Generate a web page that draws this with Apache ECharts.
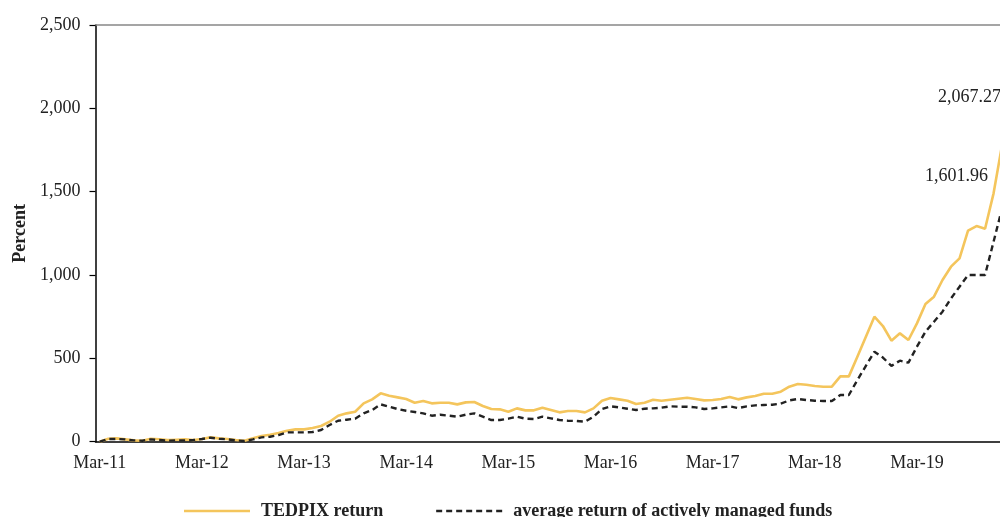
<!DOCTYPE html>
<html>
<head>
<meta charset="utf-8">
<script src="https://cdn.jsdelivr.net/npm/echarts@6/dist/echarts.min.js"></script>
<style>
html,body{margin:0;padding:0;overflow:hidden;background:#fff;}
#chart{width:1030px;height:517px;}
</style>
</head>
<body>
<div id="chart"></div>
<script>
// Monthly observations, Mar-2011 .. Feb-2020
const startYear = 2011, startMonth = 2; // March (0-based)
const monthNames = ['Jan','Feb','Mar','Apr','May','Jun','Jul','Aug','Sep','Oct','Nov','Dec'];

const tedpixReturn = [
  0, 18, 20, 14, 8, 6, 18, 15, 10, 12, 14, 10,
  16, 26, 20, 16, 10, 6, 20, 34, 42, 52, 66, 74,
  74, 82, 94, 120, 156, 170, 180, 230, 254, 290, 276, 266,
  256, 234, 244, 230, 234, 234, 224, 236, 238, 214, 196, 194,
  180, 200, 188, 188, 204, 190, 176, 184, 184, 176, 200, 246,
  262, 254, 246, 226, 234, 252, 246, 252, 258, 264, 256, 248,
  250, 256, 268, 254, 266, 274, 288, 288, 300, 330, 346, 342,
  334, 330, 330, 392, 392, 510, 630, 750, 694, 606, 650, 610,
  710, 826, 870, 970, 1050, 1100, 1266, 1294, 1278, 1490, 1780, 2067.27
];

const fundsReturn = [
  0, 16, 16, 14, 8, 6, 14, 10, 6, 8, 8, 10,
  16, 24, 18, 14, 8, 4, 14, 26, 30, 40, 56, 56,
  56, 58, 70, 100, 126, 132, 138, 170, 190, 224, 210, 196,
  186, 178, 170, 156, 162, 156, 150, 162, 170, 150, 130, 130,
  138, 150, 138, 136, 150, 140, 130, 126, 124, 120, 150, 196,
  212, 206, 198, 190, 198, 200, 204, 212, 210, 210, 206, 196,
  200, 206, 212, 202, 212, 218, 220, 222, 228, 248, 256, 250,
  246, 244, 244, 280, 280, 370, 455, 540, 505, 455, 486, 474,
  570, 660, 720, 780, 860, 930, 1000, 1000, 1000, 1200, 1400, 1601.96
];

const seriesNames = ['TEDPIX return', 'average return of actively managed funds'];
const endLabels = ['2,067.27', '1,601.96'];
const yTicks = { min: 0, max: 2500, interval: 500 };

const categories = tedpixReturn.map((_, i) => {
  const m = startMonth + i;
  const y = startYear + Math.floor(m / 12);
  return monthNames[m % 12] + '-' + String(y % 100).padStart(2, '0');
});

const FONT = '"Liberation Serif", "Times New Roman", serif';
const TXT = '#222';
const GOLD = '#F4C55C';
const DARK = '#222';

function withEndLabel(arr, text, dist, dy) {
  return arr.map((v, i) => i === arr.length - 1
    ? { value: v,
        label: { show: true, position: 'left', distance: dist, offset: [0, dy], formatter: text,
        fontFamily: FONT, fontSize: 18, color: TXT } }
    : v);
}

const dashIcon = 'path://M0,0h6v2.4h-6z M10,0h6v2.4h-6z M20,0h6v2.4h-6z M30,0h6v2.4h-6z M40,0h6v2.4h-6z M50,0h6v2.4h-6z M60,0h6v2.4h-6z';

const chart = echarts.init(document.getElementById('chart'), null, { renderer: 'canvas' });
chart.setOption({
  animation: false,
  backgroundColor: '#fff',
  grid: { left: 95.5, right: 15.15, top: 25, bottom: 75.3, containLabel: false },
  legend: {
    left: 179, top: 497,
    itemWidth: 66, itemHeight: 2.6, itemGap: 53,
    textStyle: { fontFamily: FONT, fontWeight: 'bold', fontSize: 18, color: TXT, padding: [0, 0, 0, 6] },
    data: [
      { name: seriesNames[0], icon: 'rect', itemStyle: { color: GOLD } },
      { name: seriesNames[1], icon: dashIcon, itemStyle: { color: DARK } }
    ]
  },
  xAxis: [{
    type: 'category', data: categories, boundaryGap: true,
    axisLine: { lineStyle: { color: '#000', width: 1.5 } },
    axisTick: { interval: 11, length: 6, lineStyle: { color: '#000', width: 1.2 } },
    axisLabel: { interval: 11, margin: 13, fontFamily: FONT, fontSize: 18, color: TXT },
    splitLine: { show: false }
  }, {
    type: 'category', data: categories, boundaryGap: true, position: 'top',
    axisLine: { lineStyle: { color: '#888', width: 1.5 } },
    axisTick: { show: false }, axisLabel: { show: false }, splitLine: { show: false }
  }],
  yAxis: {
    type: 'value', min: yTicks.min, max: yTicks.max, interval: yTicks.interval,
    name: 'Percent', nameLocation: 'middle', nameRotate: 90, nameGap: 66,
    nameTextStyle: { fontFamily: FONT, fontWeight: 'bold', fontSize: 18, color: TXT },
    axisLine: { show: true, lineStyle: { color: '#000', width: 1.5 } },
    axisTick: { show: true, length: 6, lineStyle: { color: '#000', width: 1.2 } },
    axisLabel: { margin: 15, fontFamily: FONT, fontSize: 18, color: TXT,
      formatter: v => v.toLocaleString('en-US') },
    splitLine: { show: false }
  },
  series: [{
    name: seriesNames[0], type: 'line', symbol: 'circle', symbolSize: 1,
    showSymbol: true, showAllSymbol: true, smooth: false,
    itemStyle: { color: 'rgba(0,0,0,0)' },
    lineStyle: { color: GOLD, width: 2.6 },
    data: withEndLabel(tedpixReturn, endLabels[0], 9, 0),
    z: 2
  }, {
    name: seriesNames[1], type: 'line', symbol: 'circle', symbolSize: 1,
    showSymbol: true, showAllSymbol: true, smooth: false,
    itemStyle: { color: 'rgba(0,0,0,0)' },
    lineStyle: { color: DARK, width: 2.4, type: [6, 4] },
    data: withEndLabel(fundsReturn, endLabels[1], 22, 2),
    z: 3
  }]
});
</script>
</body>
</html>
